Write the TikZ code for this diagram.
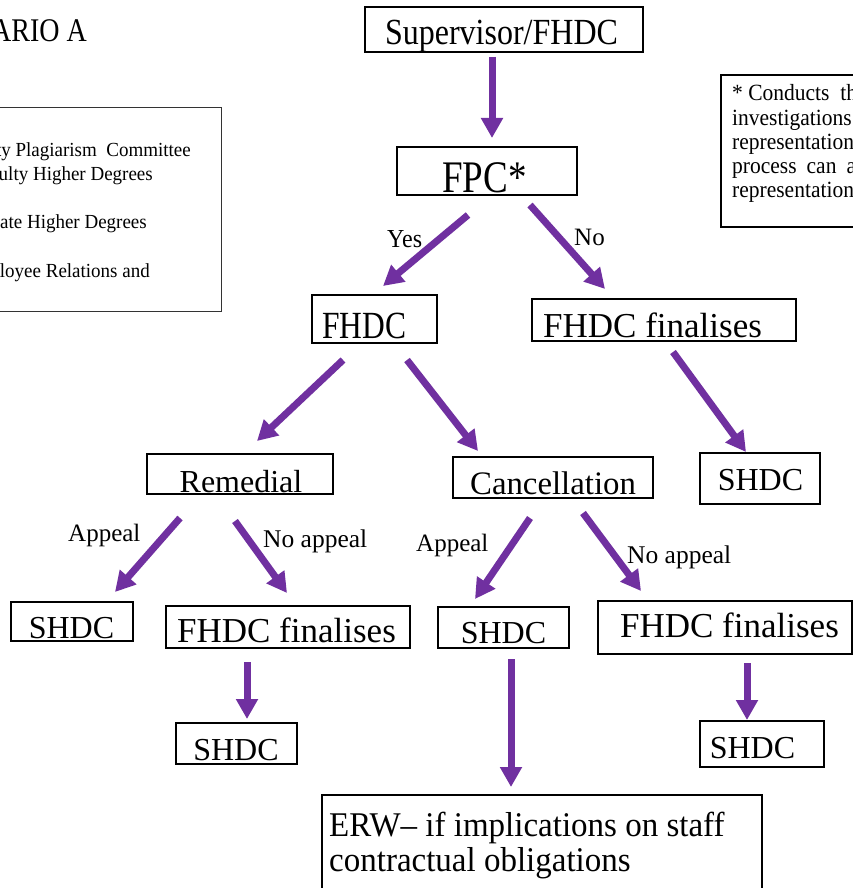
\documentclass[tikz,border=0pt]{standalone}
\usepackage{fontspec}
\setmainfont{Liberation Serif}
\usepackage{graphicx}
\usetikzlibrary{arrows.meta}
\definecolor{arrowpurple}{RGB}{112,48,160}
\newcommand\vst[2][1.0]{\scalebox{1}[#1]{#2}}
\newcommand\fs[1]{\fontsize{#1}{#1}\selectfont}
\begin{document}
\begin{tikzpicture}[x=1pt,y=-1pt,
  boxnode/.style={draw=black, line width=1.3pt, inner sep=0pt},
  lbl/.style={inner sep=0pt, anchor=base},
  lblw/.style={inner sep=0pt, anchor=base west},
  lble/.style={inner sep=0pt, anchor=base east},
  arr/.style={draw=arrowpurple, line width=7pt, -{Triangle[width=21pt,length=20pt]}}]
\useasboundingbox (0,0) rectangle (853,888);
\clip (0,0) rectangle (853,888);
\fill[white] (0,0) rectangle (853,888);

% title
\node[lble, font=\fs{28}] (title) at (87,42) {\vst[1.18]{SCENARIO A}};

% legend box
\node[draw=black!80, line width=1pt, minimum width=421pt, minimum height=203pt, inner sep=0pt] (legend) at (10.5,209.5) {};
\node[lble, font=\fs{19}] (leg1) at (191,157) {\vst[1.05]{FPC -- Faculty Plagiarism\ \ Committee}};
\node[lble, font=\fs{19}] (leg2) at (153,180) {\vst[1.05]{FHDC -- Faculty Higher Degrees}};
\node[lble, font=\fs{19}] (leg3) at (147,228) {\vst[1.05]{SHDC -- Senate Higher Degrees}};
\node[lble, font=\fs{19}] (leg4) at (150,277) {\vst[1.05]{ERW -- Employee Relations and}};

% note box
\node[draw=black, line width=1.3pt, minimum width=229pt, minimum height=152pt, inner sep=0pt] (note) at (835.5,151) {};
\node[lblw, font=\fs{21.5}] (note1) at (732,101) {\vst[1.08]{*\ Conducts\ \ the}};
\node[lblw, font=\fs{21.5}] (note2) at (732,125) {\vst[1.08]{investigations}};
\node[lblw, font=\fs{21.5}] (note3) at (732,149) {\vst[1.08]{representations}};
\node[lblw, font=\fs{21.5}] (note4) at (732,173) {\vst[1.08]{process\hspace{10pt}can\hspace{10pt}also}};
\node[lblw, font=\fs{21.5}] (note5) at (732,197) {\vst[1.08]{representations}};

% flow boxes
\node[boxnode, minimum width=278pt, minimum height=45pt] (sup) at (504,29.5) {};
\node[lbl, font=\fs{32}] (sup-t) at (501.5,45) {\vst[1.15]{Supervisor/FHDC}};

\node[boxnode, minimum width=180pt, minimum height=48pt] (fpc) at (487,171) {};
\node[lbl, font=\fs{37}] (fpc-t) at (484.5,192) {\vst[1.22]{FPC*}};

\node[boxnode, minimum width=125pt, minimum height=48pt] (fhdc) at (374.5,319) {};
\node[lblw, font=\fs{31.5}] (fhdc-t) at (322,338) {\vst[1.22]{FHDC}};

\node[boxnode, minimum width=264pt, minimum height=42pt] (fin1) at (664,320) {};
\node[lblw, font=\fs{35}] (fin1-t) at (543,337) {\vst{FHDC finalises}};

\node[boxnode, minimum width=186pt, minimum height=40pt] (rem) at (240,474) {};
\node[lbl, font=\fs{32}] (rem-t) at (241,492) {\vst{Remedial}};

\node[boxnode, minimum width=200pt, minimum height=41pt] (can) at (553,477.5) {};
\node[lbl, font=\fs{32.8}] (can-t) at (553,494) {\vst{Cancellation}};

\node[boxnode, minimum width=120pt, minimum height=51pt] (shdcR) at (760,478.5) {};
\node[lbl, font=\fs{32}] (shdcR-t) at (760.5,490) {\vst{SHDC}};

\node[boxnode, minimum width=122pt, minimum height=39pt] (shdc1) at (72,621.5) {};
\node[lbl, font=\fs{32}] (shdc1-t) at (71.5,638) {\vst{SHDC}};

\node[boxnode, minimum width=244pt, minimum height=42pt] (fin2) at (288,627) {};
\node[lbl, font=\fs{35}] (fin2-t) at (286.5,642) {\vst{FHDC finalises}};

\node[boxnode, minimum width=131pt, minimum height=41pt] (shdc2) at (503.5,627.5) {};
\node[lbl, font=\fs{32}] (shdc2-t) at (503.5,643) {\vst{SHDC}};

\node[boxnode, minimum width=254pt, minimum height=53pt] (fin3) at (725,627.5) {};
\node[lbl, font=\fs{35}] (fin3-t) at (729.5,637) {\vst{FHDC finalises}};

\node[boxnode, minimum width=121pt, minimum height=41pt] (shdc3) at (236.5,743.5) {};
\node[lbl, font=\fs{32}] (shdc3-t) at (236,760) {\vst{SHDC}};

\node[boxnode, minimum width=124pt, minimum height=46pt] (shdc4) at (762,744) {};
\node[lbl, font=\fs{32}] (shdc4-t) at (752.5,758) {\vst{SHDC}};

\node[boxnode, minimum width=440pt, minimum height=110pt] (erw) at (542,850) {};
\node[lblw, font=\fs{33}] (erw-t1) at (329,836) {\vst[1.05]{ERW-- if implications on staff}};
\node[lblw, font=\fs{33}] (erw-t2) at (329,871) {\vst[1.05]{contractual obligations}};

% edge labels
\node[lblw, font=\fs{24}] (yes) at (387,247) {\vst[1.08]{Yes}};
\node[lblw, font=\fs{25}] (no) at (574,245) {\vst{No}};
\node[lblw, font=\fs{25}] (ap1) at (68,541) {\vst{Appeal}};
\node[lblw, font=\fs{25.5}] (nap1) at (263,547) {\vst{No appeal}};
\node[lblw, font=\fs{25}] (ap2) at (416,551) {\vst{Appeal}};
\node[lblw, font=\fs{25.5}] (nap2) at (627,563) {\vst{No appeal}};

% arrow end points
\coordinate (a1s) at (492,57);   \coordinate (a1e) at (492,138);
\coordinate (a2s) at (468,215);  \coordinate (a2e) at (383,286);
\coordinate (a3s) at (530,205);  \coordinate (a3e) at (605,289);
\coordinate (a4s) at (343,360);  \coordinate (a4e) at (257,441);
\coordinate (a5s) at (407,360);  \coordinate (a5e) at (478,451);
\coordinate (a6s) at (673,352);  \coordinate (a6e) at (746,452);
\coordinate (a7s) at (180,518);  \coordinate (a7e) at (115,592);
\coordinate (a8s) at (235,521);  \coordinate (a8e) at (287,593);
\coordinate (a9s) at (530,518);  \coordinate (a9e) at (475,599);
\coordinate (a10s) at (583,513); \coordinate (a10e) at (641,591);
\coordinate (a11s) at (247,662); \coordinate (a11e) at (247,719);
\coordinate (a12s) at (511,659); \coordinate (a12e) at (511,787);
\coordinate (a13s) at (747,663); \coordinate (a13e) at (747,720);

\foreach \i in {1,...,13} {\draw[arr] (a\i s) -- (a\i e);}
\end{tikzpicture}
\end{document}
